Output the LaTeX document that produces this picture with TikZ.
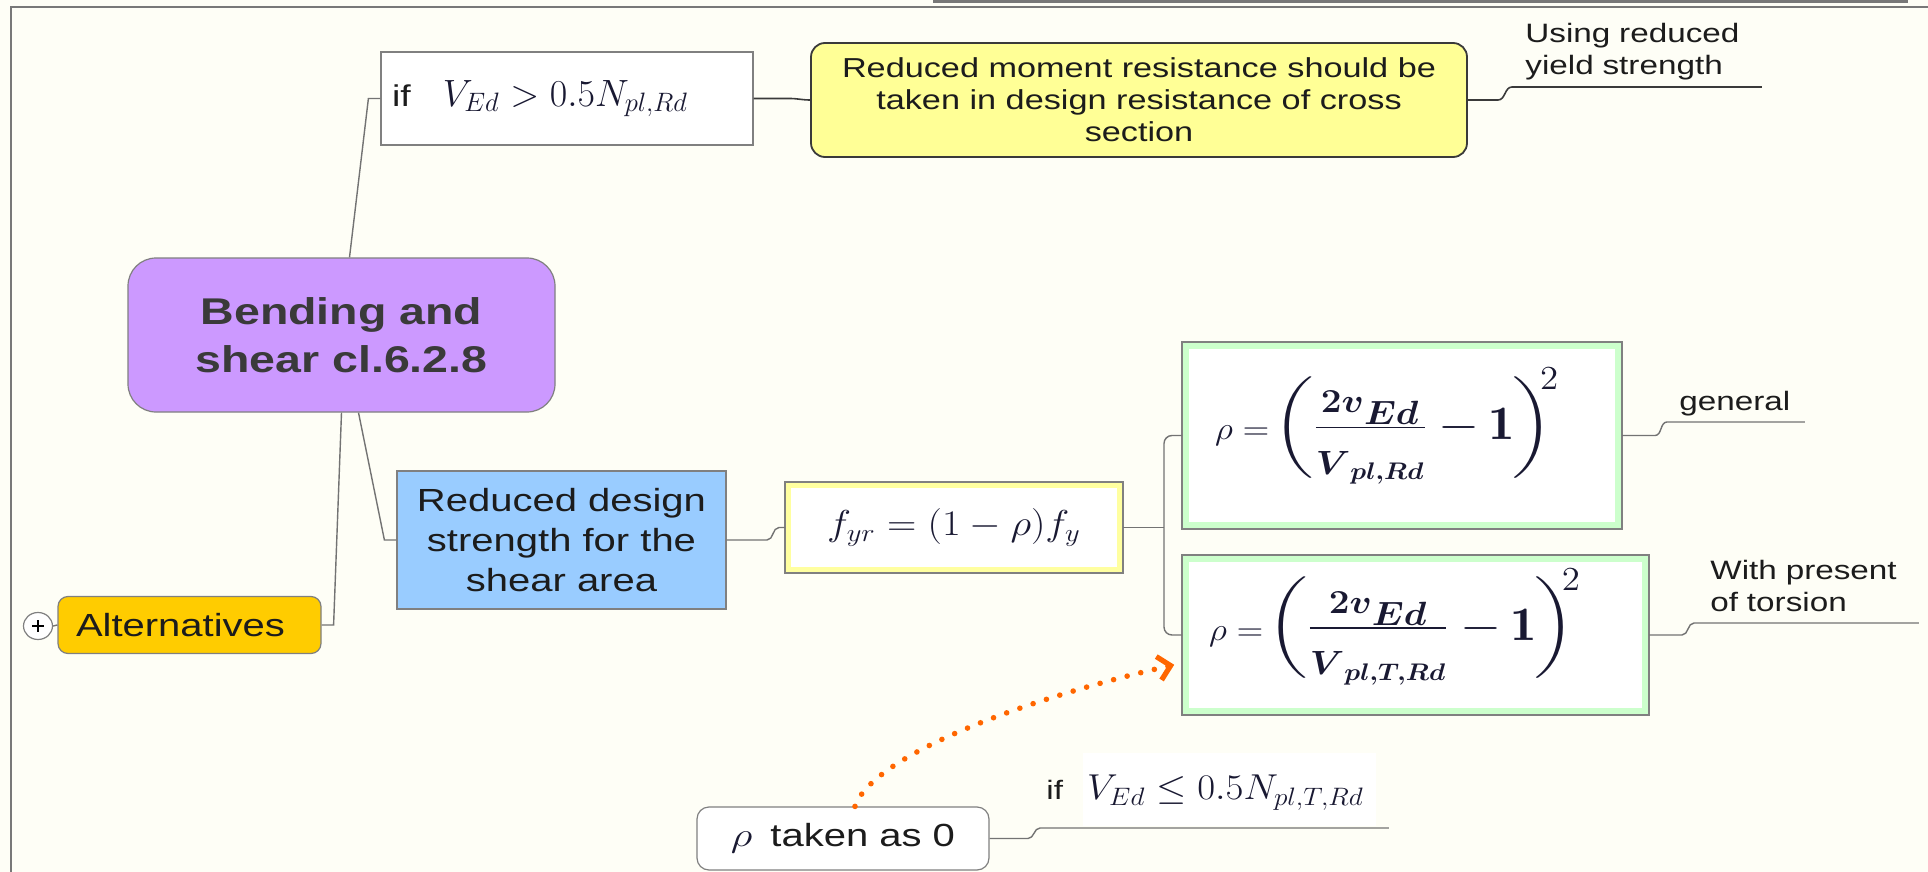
\RequirePackage{fix-cm}
\documentclass[tikz,border=0pt]{standalone}
\usepackage{fontspec}
\usepackage{amsmath}
\usepackage{graphicx}
\usetikzlibrary{calc,arrows.meta,shapes.geometric}
\newfontfamily\af{Liberation Sans}[FakeStretch=1.25]
\definecolor{bg}{RGB}{254,254,246}
\definecolor{framec}{RGB}{120,120,120}
\definecolor{purp}{RGB}{204,153,255}
\definecolor{yelc}{RGB}{255,255,150}
\definecolor{gold}{RGB}{255,204,0}
\definecolor{sky}{RGB}{153,204,255}
\definecolor{mint}{RGB}{204,255,204}
\definecolor{ylband}{RGB}{255,255,160}
\definecolor{orng}{RGB}{255,102,0}
\definecolor{connc}{RGB}{115,115,115}
\definecolor{txt}{RGB}{28,28,28}
\definecolor{rtxt}{RGB}{58,58,58}
\definecolor{mathc}{RGB}{25,25,50}
\setlength{\fboxsep}{0pt}
\newcommand{\mylp}{\mathopen{\vcenter{\hbox{\scalebox{1}[0.85]{$\biggl($}}}}}
\newcommand{\myrp}{\mathclose{\vcenter{\hbox{\scalebox{1}[0.85]{$\biggr)$}}}}}
\newcommand{\rhoformula}[1]{{\fontsize{16}{19}\selectfont$\rho =$}\,{\fontsize{24}{29}\selectfont$\mylp\frac{\boldsymbol{2v}_{\scriptstyle\boldsymbol{Ed}}}{\rule{0pt}{22pt}\boldsymbol{V}_{\boldsymbol{#1}}}\mkern4mu{-}\mkern3mu\mathbf{1}\mkern-1mu\myrp^{\mkern-6mu 2}$}}
\begin{document}
\begin{tikzpicture}[x=0.5pt,y=-0.5pt,
  conn/.style={draw=connc, line width=0.7pt},
  darkconn/.style={draw=rtxt, line width=0.8pt},
  boxbase/.style={inner sep=0pt, align=center, text=txt},
  rootn/.style={boxbase, draw=gray, line width=0.6pt, fill=purp, rounded corners=14pt,
    minimum width=213.5pt, minimum height=77pt, text=rtxt,
    font=\af\bfseries\fontsize{18.6}{24}\selectfont},
  ifn/.style={boxbase, draw=gray, line width=0.6pt, fill=white, align=left,
    text width=175pt, inner xsep=5.5pt, minimum height=46.5pt},
  yeln/.style={boxbase, draw=rtxt, line width=0.9pt, fill=yelc, rounded corners=7pt,
    minimum width=328pt, minimum height=57pt, font=\af\fontsize{13.7}{16}\selectfont},
  altn/.style={boxbase, draw=gray, line width=0.6pt, fill=gold, rounded corners=5pt,
    align=left, text width=113.5pt, inner xsep=9pt, minimum height=28.5pt,
    font=\af\fontsize{16}{19}\selectfont},
  bluen/.style={boxbase, draw=gray, line width=0.6pt, fill=sky,
    minimum width=164.5pt, minimum height=69pt, font=\af\fontsize{16}{20}\selectfont},
  fyrn/.style={boxbase, draw=ylband, line width=3pt, fill=white,
    minimum width=166pt, minimum height=42.5pt, text=mathc},
  grn/.style={boxbase, draw=mint, line width=3.5pt, fill=white, text=mathc},
  rhon/.style={boxbase, draw=gray, line width=0.6pt, fill=white, rounded corners=6pt,
    minimum width=146pt, minimum height=31.5pt, font=\af\fontsize{16}{19}\selectfont},
  lab/.style={anchor=south west, align=left, inner ysep=1pt, text=txt,
    font=\af\fontsize{13.3}{16}\selectfont},
  outline/.style={draw=gray, line width=0.6pt}
]
\path[fill=bg, use as bounding box] (0,0) rectangle (1928,872);
% frame
\draw[draw=framec, line width=1pt] (11,880) -- (11,7) -- (1940,7);
\draw[draw=framec, line width=1.2pt] (934,-6) -- (934,1.5) -- (1907,1.5) -- (1907,-6);

% nodes
\node[rootn] (root) at (341.5,335) {Bending and\\shear cl.6.2.8};
\node[ifn] (ifbox) at (567,98.5) {{\af\fontsize{15}{18}\selectfont if}\hspace{16pt}{\fontsize{19}{22}\selectfont\color{mathc}$V_{Ed} > 0.5N_{pl,Rd}$}};
\node[yeln] (yel) at (1139,100) {Reduced moment resistance should be\\taken in design resistance of cross\\section};
\node[altn] (alt) at (189.5,625) {Alternatives};
\node[draw=gray, fill=white, ellipse, minimum width=14.5pt, minimum height=13.5pt, inner sep=0pt, line width=0.6pt] (plus) at (38,626) {};
\draw[line width=0.7pt] ($(plus.center)+(-6,0)$) -- ($(plus.center)+(6,0)$);
\draw[line width=0.7pt] ($(plus.center)+(0,-6)$) -- ($(plus.center)+(0,6)$);
\node[bluen] (blue) at (561.5,540) {Reduced design\\strength for the\\shear area};
\node[fyrn] (fyr) at (954,527.5) {\scalebox{1.13}[1]{\fontsize{18}{21}\selectfont$f_{yr} = (1-\rho)f_y$}};
\draw[outline] (fyr.north west) rectangle (fyr.south east);
\node[grn, minimum width=216.5pt, minimum height=90pt] (g1) at (1402,435.5)
  {\makebox[187pt][l]{\raisebox{-2pt}[0pt][0pt]{\scalebox{1.1}[1]{\rhoformula{pl,Rd}}}}};
\draw[outline] (g1.north west) rectangle (g1.south east);
\node[grn, minimum width=230pt, minimum height=76.5pt] (g2) at (1415.5,635)
  {\makebox[206.5pt][l]{\raisebox{-2.5pt}[0pt][0pt]{\scalebox{1.1}[1]{\rhoformula{pl,T,Rd}}}}};
\draw[outline] (g2.north west) rectangle (g2.south east);
\node[rhon] (rho0) at (843,838.5) {\scalebox{1.25}[1]{\fontsize{17}{20}\selectfont\color{mathc}$\rho$}\hspace{9pt}taken as 0};

% labels
\node[lab, inner xsep=6.5pt, text width=111.5pt] (lab1) at (1512,87) {Using reduced\\yield strength\strut};
\node[lab, inner xsep=6pt, text width=56.5pt] (lab2) at (1667,422) {general\strut};
\node[lab, inner xsep=8pt, text width=96pt] (lab3) at (1694,623) {With present\\of torsion\strut};
\node[lab, inner xsep=3pt, text width=168pt] (lab4) at (1040,828) {if\hspace{10pt}\colorbox{white}{\rule[-13pt]{0pt}{36.5pt}\makebox[146.5pt][l]{\hspace{2pt}\scalebox{1.08}[1]{\fontsize{18}{21}\selectfont\color{mathc}$V_{Ed}\leq 0.5N_{pl,T,Rd}$}}}};

% connectors
\draw[conn] ($(root.north)+(8,0)$) -- ($(ifbox.west)+(-12,0)$) -- (ifbox.west);
\draw[conn] ($(root.south)+(17,0)$) -- ($(blue.west)+(-12,0)$) -- (blue.west);
\draw[conn] (root.south) -- ($(alt.east)+(12,0)$) -- (alt.east);
\draw[conn] (plus.east) -- (alt.west);
\draw[darkconn] (ifbox.east) -- ++(36,0) to[out=0,in=180] (yel.west);
\coordinate (s1) at ($(lab1.south west)+(-14,0)$);
\draw[darkconn] (yel.east) -- (s1 |- yel.east) to[out=0,in=180] (lab1.south west) -- (lab1.south east);
\coordinate (s2) at ($(fyr.west)+(-18,0)$);
\draw[conn] (blue.east) -- (s2 |- blue.east) to[out=0,in=180] ($(fyr.west)+(-6,0)$) -- (fyr.west);
\coordinate (br) at ($(g1.west)+(-18,0)$);
\draw[conn] (fyr.east) -- (br |- fyr.east);
\draw[conn, rounded corners=4pt] (g1.west) -- (br) -- (br |- g2.west) -- (g2.west);
\coordinate (s3) at ($(lab2.south west)+(-12,0)$);
\draw[conn] (g1.east) -- (s3 |- g1.east) to[out=0,in=180] (lab2.south west) -- (lab2.south east);
\coordinate (s4) at ($(lab3.south west)+(-12,0)$);
\draw[conn] (g2.east) -- (s4 |- g2.east) to[out=0,in=180] (lab3.south west) -- (lab3.south east);
\coordinate (s5) at ($(lab4.south west)+(-12,0)$);
\draw[conn] (rho0.east) -- (s5 |- rho0.east) to[out=0,in=180] (lab4.south west) -- (lab4.south east);

% orange dotted arrow
\coordinate (tip) at ($(g2.south west)!0.65!(g2.west)$);
\draw[orng, line width=2.8pt, line cap=round, dash pattern=on 0pt off 7pt, shorten >=4pt,
  -{Straight Barb[length=6pt,width=12pt,line width=2.6pt]}]
  ($(rho0.north)+(12,0)$) .. controls +(17,-50) and +(-162,37) .. (tip);
\end{tikzpicture}
\end{document}
